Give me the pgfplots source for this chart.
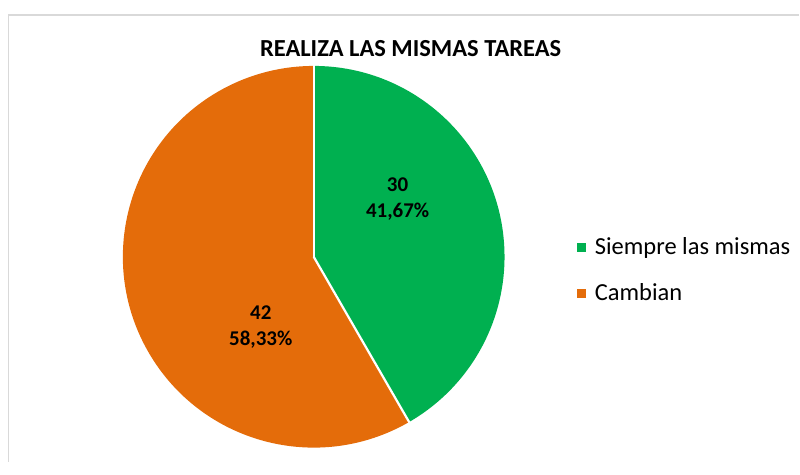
\documentclass[border=0pt]{standalone}
\usepackage{pgfplots}
\pgfplotsset{compat=1.18}
\usepackage{pgfplotstable}
\usepackage{fontspec}
\setmainfont{Carlito}
\definecolor{cgreen}{HTML}{00B050}
\definecolor{corange}{HTML}{E46C0A}
\definecolor{cborder}{HTML}{D9D9D9}
\pgfplotstableread{
idx value
1 30
2 42
}\pietable
\begin{document}
\begin{tikzpicture}
\pgfplotstablegetelem{0}{value}\of\pietable \let\va\pgfplotsretval
\pgfplotstablegetelem{1}{value}\of\pietable \let\vb\pgfplotsretval
\pgfmathsetmacro{\tot}{\va+\vb}
\pgfmathsetmacro{\angA}{360*\va/\tot}
\pgfmathsetmacro{\endA}{90-\angA}
\begin{axis}[width=800pt,height=462pt,scale only axis,
  xmin=0,xmax=800,ymin=0,ymax=462, hide axis, clip=false,
  legend style={at={(axis cs:577,226.5)},anchor=north west, draw=none, fill=none,
    font=\fontsize{24.5}{29}\selectfont, row sep=24pt, inner sep=0pt,
    nodes={inner sep=2pt}},
  legend cell align=left,
  legend image code/.code={\fill[#1] (0pt,-4pt) rectangle (8pt,4pt); \path[draw=none,fill=none] (0pt,-4pt) rectangle (16pt,4pt);}]
\path (axis cs:0,0) rectangle (axis cs:800,462);
\draw[cborder, line width=1.5pt] (axis cs:8.5,0) -- (axis cs:8.5,447) -- (axis cs:800,447);
% wedges
\fill[cgreen] (axis cs:314,205) -- ++(90:191pt) arc[start angle=90, end angle=\endA, radius=191pt] -- cycle;
\fill[corange] (axis cs:314,205) -- ++(\endA:191pt) arc[start angle=\endA, end angle=-270, radius=191pt] -- cycle;
\draw[white, line width=2.2pt] (axis cs:314,205) -- ++(90:192pt);
\draw[white, line width=2.2pt] (axis cs:314,205) -- ++(\endA:192pt);
% title
\node[font=\fontsize{24.5}{28}\selectfont\bfseries] at (axis cs:411,413) {REALIZA LAS MISMAS TAREAS};
% data labels
\node[font=\fontsize{21}{26}\selectfont\bfseries, align=center] at (axis cs:398,263) {30\\41,67\%};
\node[font=\fontsize{21}{26}\selectfont\bfseries, align=center] at (axis cs:261,135) {42\\58,33\%};
\addlegendimage{cgreen}
\addlegendentry{Siempre las mismas}
\addlegendimage{corange}
\addlegendentry{Cambian}
\end{axis}
\end{tikzpicture}
\end{document}
